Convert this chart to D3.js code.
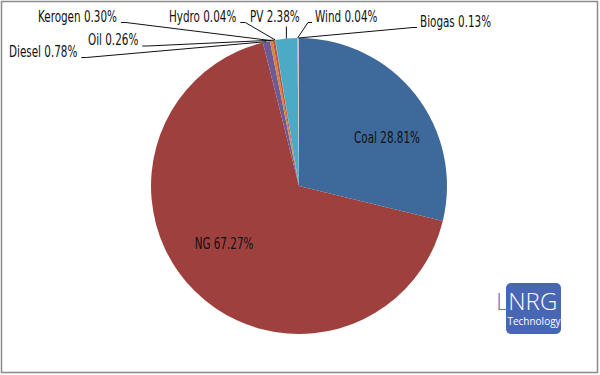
<!DOCTYPE html>
<html>
<head>
<meta charset="utf-8">
<script src="https://cdn.jsdelivr.net/npm/d3@7"></script>
<style>
  html, body { margin: 0; padding: 0; background: #fff; }
  svg { display: block; }
  text.lab { font-family: "Liberation Sans Narrow", "DejaVu Sans Condensed", "Roboto Condensed", sans-serif; }
</style>
</head>
<body>
<svg id="chart" width="600" height="375"></svg>
<script>
// ---- data ----
const categories = ["Coal", "NG", "Diesel", "Kerogen", "Oil", "Hydro", "PV", "Wind", "Biogas"];
const shares = [28.81, 67.27, 0.78, 0.30, 0.26, 0.04, 2.38, 0.04, 0.13];
const labelTexts = ["Coal 28.81%", "NG 67.27%", "Diesel 0.78%", "Kerogen 0.30%", "Oil 0.26%",
                    "Hydro 0.04%", "PV 2.38%", "Wind 0.04%", "Biogas 0.13%"];

// ---- styles / layout ----
const colors = ["#3E6A9B", "#9E413E", "#6E5A96", "#D8823A", "#BC4F4B", "#8FB04F", "#4BAAC6", "#8AA5C8", "#CDBFCB"];
const labelLayout = [
  { inside: true, x: 387, y: 143 },
  { inside: true, x: 224, y: 249 },
  { x: 9,   y: 56.5, leader: "right" },
  { x: 38,  y: 21.5, leader: "right" },
  { x: 88,  y: 45,   leader: "right" },
  { x: 169, y: 21.5, leader: "right" },
  { x: 250, y: 21.5, leader: "down" },
  { x: 315, y: 21.5, leader: "left" },
  { x: 420, y: 26.5, leader: "left" }
];

const cx = 299, cy = 186, R = 148;
const svg = d3.select("#chart");

svg.append("rect").attr("x", 1.5).attr("y", 1.5).attr("width", 596).attr("height", 371)
  .attr("fill", "#fff").attr("stroke", "#8a8a8a").attr("stroke-width", 1.5);

const data = categories.map((c, i) => ({ cat: c, value: shares[i], label: labelTexts[i], color: colors[i], lay: labelLayout[i] }));
const pie = d3.pie().sort(null).value(d => d.value);
const arcs = pie(data);
const arc = d3.arc().innerRadius(0).outerRadius(R);

const g = svg.append("g").attr("transform", `translate(${cx},${cy})`);
g.selectAll("path").data(arcs).join("path")
  .attr("d", arc)
  .attr("fill", d => d.data.color);

// labels: condensed look via horizontal scaling
const fs = 16.5;
const lbl = svg.append("g");
const probe = lbl.append("text").attr("class", "lab").attr("font-size", fs).text(labelTexts[3]);
const k = 79 / probe.node().getComputedTextLength();
probe.remove();

arcs.forEach(a => {
  const L = a.data.lay;
  const anchor = L.inside ? "middle" : "start";
  const t = lbl.append("text").attr("class", "lab")
    .attr("transform", `translate(${L.x},${L.y}) scale(${k},1)`)
    .attr("text-anchor", anchor)
    .attr("font-size", fs).attr("fill", "#111").text(a.data.label);
  if (L.inside) return;
  const w = t.node().getComputedTextLength() * k;
  const mid = (a.startAngle + a.endAngle) / 2;
  const px = cx + R * Math.sin(mid), py = cy - R * Math.cos(mid);
  let pts;
  if (L.leader === "right") {
    const sx = L.x + w + 4, sy = L.y + 1;
    pts = [[sx, sy], [sx + 5, sy], [px, py]];
  } else if (L.leader === "left") {
    const sx = L.x - 3, sy = L.y + 1;
    pts = [[sx, sy], [sx - 4, sy], [px, py]];
  } else {
    pts = [[px, L.y + 5], [px, py]];
  }
  lbl.append("polyline").attr("points", pts.map(p => p.join(",")).join(" "))
    .attr("fill", "none").attr("stroke", "#111").attr("stroke-width", 1);
});

// logo
const logo = svg.append("g");
logo.append("rect").attr("x", 506).attr("y", 283).attr("width", 55).attr("height", 51).attr("rx", 5)
  .attr("fill", "#4766B4");
const lt = logo.append("text").attr("x", 496).attr("y", 310)
  .style("font-family", "'Open Sans', 'DejaVu Sans', sans-serif").attr("font-size", 24).attr("font-weight", 300);
lt.append("tspan").attr("fill", "#5A78C0").text("L");
lt.append("tspan").attr("fill", "#fff").text("NRG");
logo.append("text").attr("x", 534).attr("y", 325).attr("text-anchor", "middle")
  .style("font-family", "'Open Sans', 'DejaVu Sans', sans-serif").attr("font-size", 10).attr("fill", "#fff")
  .text("Technology");
</script>
</body>
</html>
